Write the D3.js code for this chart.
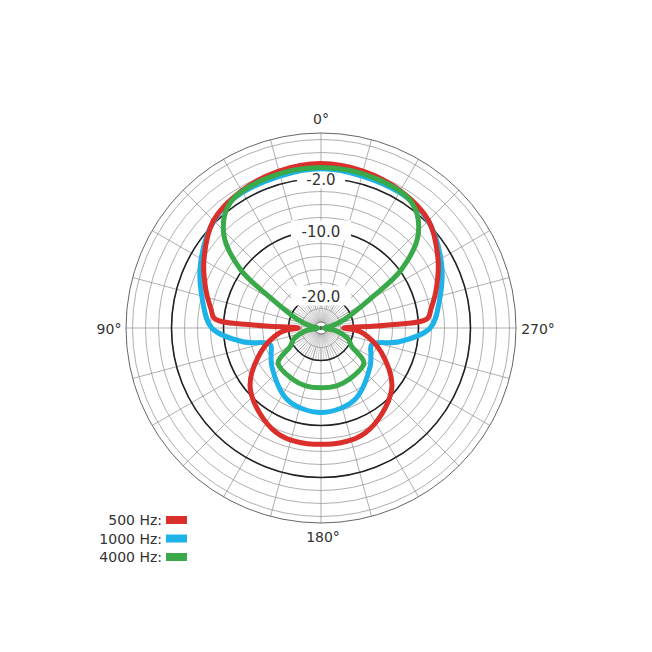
<!DOCTYPE html>
<html><head><meta charset="utf-8">
<script src="https://cdn.jsdelivr.net/npm/d3@7"></script>
<style>body{margin:0;background:#fff}</style>
</head><body>
<svg id="chart" width="652" height="652"></svg>
<script>
// polar response, dB per angle (0..180, mirrored for the other side)
const angles500 = [0, 15, 30, 45, 60, 72, 80, 85, 87.5, 90, 93, 97, 112, 131, 157, 180];
const db500 = [0.3, 0, -0.6, -1.6, -4.2, -6.4, -7.8, -8.6, -15, -21.5, -20, -18.5, -15, -10.6, -7.5, -7.1];
const angles1000 = [0, 30, 45, 62, 77, 90, 100, 108, 118, 128, 155, 180];
const db1000 = [-0.5, -0.9, -1.7, -4, -6.3, -8.2, -12.8, -16.8, -16.3, -15.4, -12.8, -12];
const angles4000 = [0, 20, 36, 46, 54, 59, 70, 80, 90, 100, 112, 121, 129, 150, 165, 180];
const db4000 = [-0.3, -0.5, -1.2, -4.2, -9.7, -15.8, -21.2, -23.5, -24.5, -22.7, -20.5, -19.5, -16.5, -16, -15.8, -15.8];
const ringLabels = ["-2.0", "-10.0", "-20.0"];
const majorRings = [-2, -10, -20];
const angleLabels = ["0°", "90°", "180°", "270°"];
const legendNames = ["500 Hz:", "1000 Hz:", "4000 Hz:"];

const colors = ["#da2f2b", "#1db3e8", "#39a94a"];
const cx = 321, cy = 328;
const svg = d3.select("#chart");
const r = d3.scaleLinear().domain([-25, 5]).range([0, 195]);
const g = svg.append("g").attr("transform", `translate(${cx},${cy})`);
const rad = d => d * Math.PI / 180;

// grey rings
g.selectAll(".ring").data(d3.range(-24, 5, 2)).join("circle")
  .attr("r", d => r(d)).attr("fill", "none").attr("stroke", "#9a9a9a").attr("stroke-width", 0.8);
// spokes
g.selectAll(".spoke").data(d3.range(0, 360, 15)).join("line")
  .attr("x1", d => r(-22) * Math.sin(rad(d))).attr("y1", d => -r(-22) * Math.cos(rad(d)))
  .attr("x2", d => r(5) * Math.sin(rad(d))).attr("y2", d => -r(5) * Math.cos(rad(d)))
  .attr("stroke", "#9a9a9a").attr("stroke-width", 0.8);
g.selectAll(".spoke2").data(d3.range(0, 360, 5)).join("line")
  .attr("x1", 0).attr("y1", 0)
  .attr("x2", d => r(-20) * Math.sin(rad(d))).attr("y2", d => -r(-20) * Math.cos(rad(d)))
  .attr("stroke", "#a5a5a5").attr("stroke-width", 0.6);
// outer circle
g.append("circle").attr("r", r(5)).attr("fill", "none").attr("stroke", "#666").attr("stroke-width", 1);
// major rings
g.selectAll(".major").data(majorRings).join("circle")
  .attr("r", d => r(d)).attr("fill", "none").attr("stroke", "#222").attr("stroke-width", 1.6);
g.append("circle").attr("r", 6).attr("fill", "#fff").attr("stroke", "#777");
g.append("circle").attr("r", 2).attr("fill", "#555");

// ring labels with white backing (under the curves)
majorRings.forEach((d, i) => {
  const y = -r(d) + 6;
  g.append("rect").attr("x", i === 0 ? -24 : -30).attr("y", y - 16).attr("width", i === 0 ? 48 : 60)
    .attr("height", 20).attr("fill", "#fff");
  g.append("text").attr("x", 0).attr("y", y).attr("text-anchor", "middle")
    .attr("font-family", "DejaVu Sans, sans-serif").attr("font-size", 15).attr("fill", "#333")
    .text(ringLabels[i]);
});

// curves
const line = d3.lineRadial().curve(d3.curveCatmullRomClosed.alpha(0.5))
  .angle(p => -rad(p[0])).radius(p => r(p[1]));
function full(a, v) {
  const pts = a.map((d, i) => [d, v[i]]);
  const back = a.slice(1, -1).reverse().map((d, i) => [360 - d, v[a.length - 2 - i]]);
  return pts.concat(back);
}
const series = [[angles500, db500], [angles1000, db1000], [angles4000, db4000]];
[1, 0, 2].forEach(i => {
  g.append("path").attr("d", line(full(series[i][0], series[i][1])))
    .attr("fill", "none").attr("stroke", colors[i]).attr("stroke-width", 5)
    .attr("stroke-linejoin", "round");
});

// angle labels
const apos = [[0, -204], [-212, 6], [2, 214], [217, 6]];
angleLabels.forEach((t, i) => {
  g.append("text").attr("x", apos[i][0]).attr("y", apos[i][1]).attr("text-anchor", "middle")
    .attr("font-family", "DejaVu Sans, sans-serif").attr("font-size", 14).attr("fill", "#333").text(t);
});

// legend
legendNames.forEach((t, i) => {
  const y = 525 + i * 18.5;
  svg.append("text").attr("x", 162).attr("y", y).attr("text-anchor", "end")
    .attr("font-family", "DejaVu Sans, sans-serif").attr("font-size", 14).attr("fill", "#333").text(t);
  svg.append("rect").attr("x", 166).attr("y", y - 9).attr("width", 21).attr("height", 8).attr("fill", colors[i]);
});
</script>
</body></html>
